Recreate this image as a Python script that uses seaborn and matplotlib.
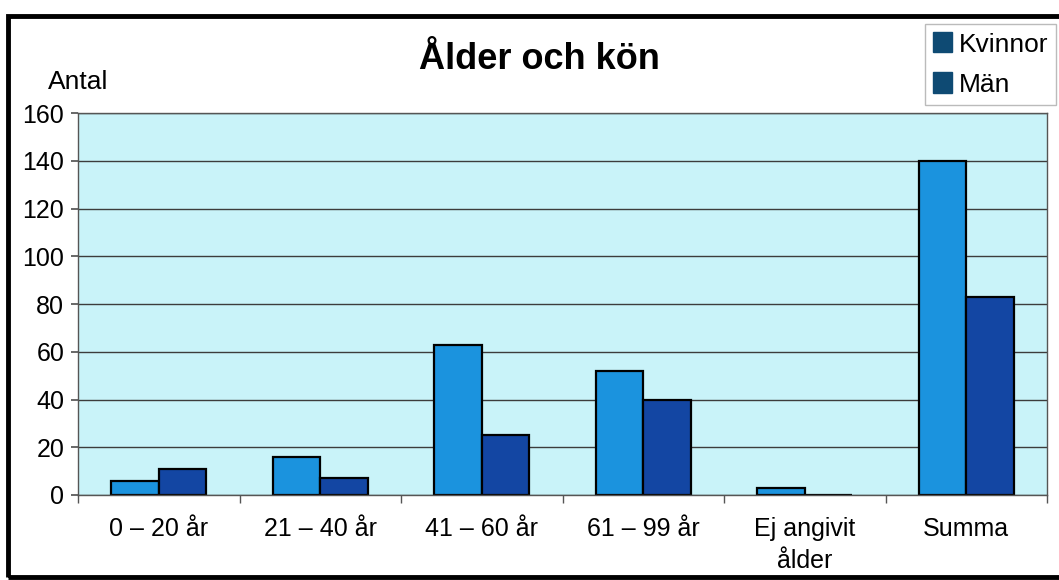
""" Ålder och kön - grupperat stapeldiagram """
import matplotlib
matplotlib.use('Agg')
import matplotlib.pyplot as plt
from matplotlib.patches import Patch, Rectangle
import numpy as np
import pandas as pd
import seaborn as sns

categories = ['0 – 20 år', '21 – 40 år', '41 – 60 år', '61 – 99 år', 'Ej angivit\nålder', 'Summa']
kvinnor = [6, 16, 63, 52, 3, 140]
man = [11, 7, 25, 40, 0, 83]
series = ['Kvinnor', 'Män']

df = pd.DataFrame({
    'Kategori': categories * 2,
    'Antal': kvinnor + man,
    'Kön': [series[0]] * len(categories) + [series[1]] * len(categories),
})

sns.set_theme(style='white')
plt.rcParams['font.family'] = ['Liberation Sans', 'DejaVu Sans']
plt.rcParams['text.color'] = 'black'
plt.rcParams['xtick.color'] = 'black'
plt.rcParams['ytick.color'] = 'black'

fig = plt.figure(figsize=(10.59, 5.80), dpi=100)
ax = fig.add_axes([0.0737, 0.1466, 0.915, 0.6584])
ax.set_facecolor('#c9f3f9')

sns.barplot(data=df, x='Kategori', y='Antal', hue='Kön', order=categories,
            palette=['#1b93de', '#1346a3'], width=0.59, gap=0,
            edgecolor='black', linewidth=1.6, saturation=1, ax=ax, legend=False)

ax.set_ylim(0, 160)
ax.set_xlim(-0.5, len(categories) - 0.5)
ax.set_yticks(np.arange(0, 161, 20))
ax.yaxis.grid(True, color='#3c3c3c', linewidth=1.0)
ax.set_axisbelow(True)
for s in ax.spines.values():
    s.set_color('#555555')
    s.set_linewidth(1.0)
ax.tick_params(axis='y', labelsize=18, length=5, color='#555555', direction='out', left=True, pad=5)
ax.set_xticks(np.arange(len(categories)))
ax.set_xticklabels(categories, fontsize=18, linespacing=1.4)
ax.tick_params(axis='x', length=0, pad=16)
ax.set_xticks(np.arange(-0.5, len(categories), 1), minor=True)
ax.tick_params(axis='x', which='minor', length=6, color='#555555', bottom=True)
ax.set_xlabel('')
ax.set_ylabel('')

fig.text(0.509, 0.898, 'Ålder och kön', fontsize=26, fontweight='bold', ha='center', va='center')
fig.text(0.074, 0.858, 'Antal', fontsize=19, ha='center', va='center')

handles = [Patch(facecolor='#0e4a73', edgecolor='#0e4a73', label=s) for s in series]
fig.legend(handles=handles, loc='upper right', bbox_to_anchor=(0.997, 0.958),
           fontsize=19, frameon=True, edgecolor='#aaaaaa', fancybox=False,
           handlelength=0.7, handleheight=0.8, handletextpad=0.25,
           borderpad=0.3, labelspacing=0.6, borderaxespad=0)

fig.patches.append(Rectangle((0.008, 0.005), 1.1, 0.968, transform=fig.transFigure,
                             fill=False, edgecolor='black', linewidth=3.5))

fig.savefig('out.png', dpi=100)
